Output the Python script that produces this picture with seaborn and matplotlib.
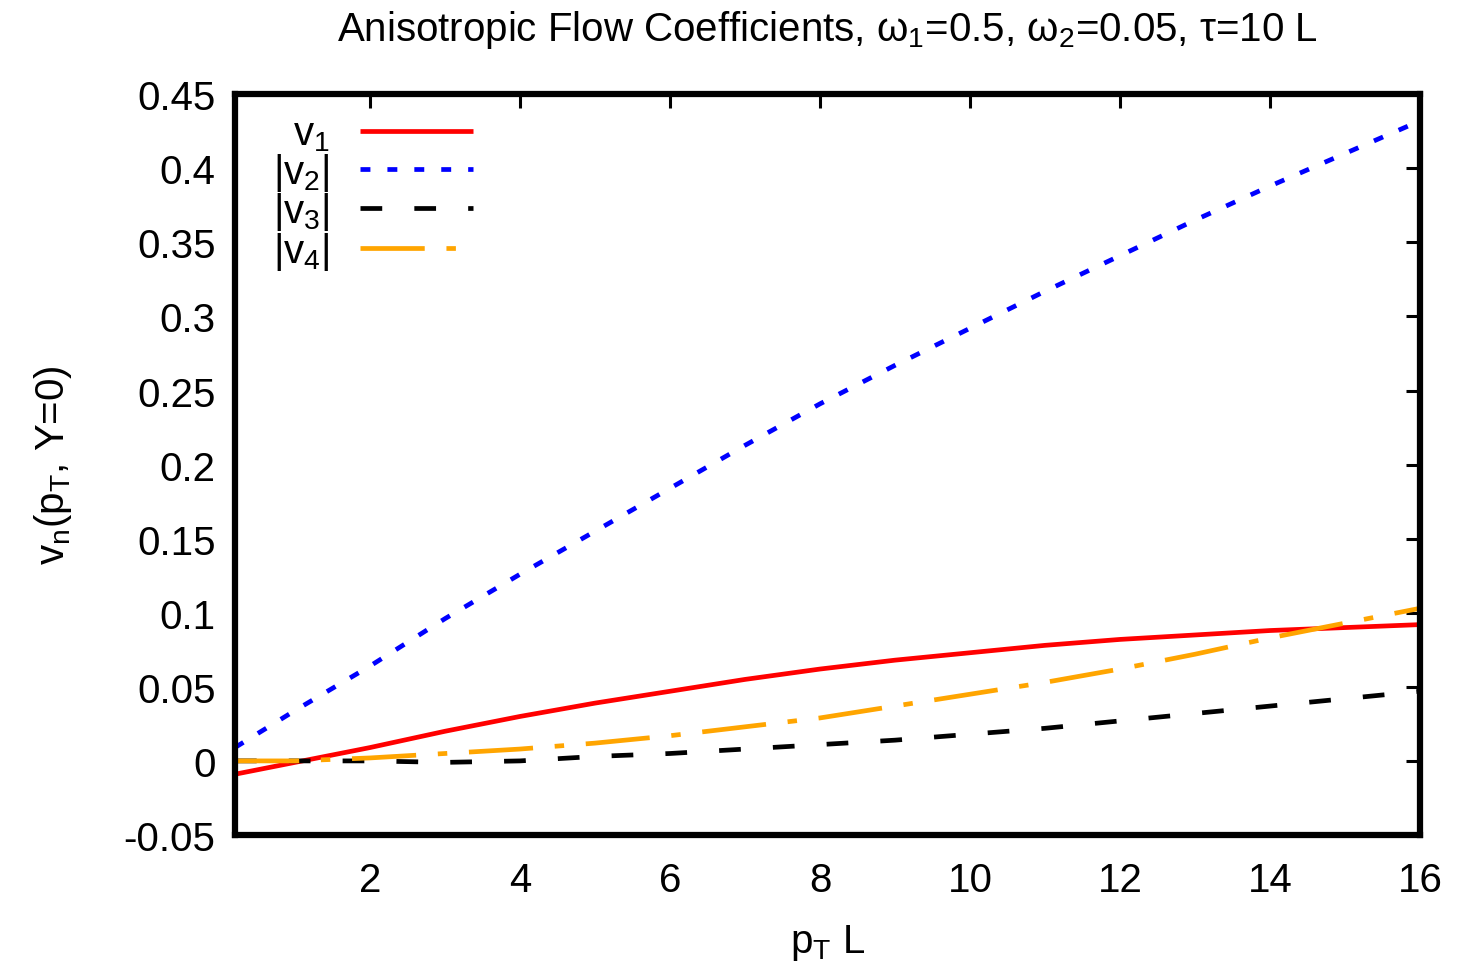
import numpy as np
import pandas as pd
import matplotlib
matplotlib.use("Agg")
import matplotlib.pyplot as plt
from matplotlib.lines import Line2D
import seaborn as sns

# ---- data ----
pt = [0.2, 1, 2, 3, 4, 5, 6, 7, 8, 9, 10, 11, 12, 13, 14, 15, 16]
v1 = [-0.009, -0.001, 0.009, 0.020, 0.030, 0.039, 0.047, 0.055, 0.062, 0.068,
      0.073, 0.078, 0.082, 0.085, 0.088, 0.090, 0.092]
v2 = [0.009, 0.034, 0.064, 0.096, 0.126, 0.155, 0.184, 0.213, 0.241, 0.267,
      0.292, 0.317, 0.341, 0.365, 0.388, 0.410, 0.432]
v3 = [0.000, 0.000, 0.000, -0.001, 0.000, 0.003, 0.005, 0.008, 0.011, 0.014,
      0.018, 0.022, 0.027, 0.032, 0.037, 0.042, 0.047]
v4 = [0.000, 0.000, 0.002, 0.005, 0.008, 0.012, 0.017, 0.023, 0.029, 0.037,
      0.045, 0.053, 0.062, 0.072, 0.083, 0.093, 0.103]
series_names = ["$v_1$", "$|v_2|$", "$|v_3|$", "$|v_4|$"]
xticks = [2, 4, 6, 8, 10, 12, 14, 16]
yticks = [-0.05, 0, 0.05, 0.1, 0.15, 0.2, 0.25, 0.3, 0.35, 0.4, 0.45]
ytick_labels = ["-0.05", "0", "0.05", "0.1", "0.15", "0.2", "0.25", "0.3", "0.35", "0.4", "0.45"]
title = r"Anisotropic Flow Coefficients, $\omega_1$=0.5, $\omega_2$=0.05, $\tau$=10 L"

sns.set_theme(style="white")
plt.rcParams["font.family"] = ["Liberation Sans", "DejaVu Sans"]
plt.rcParams["mathtext.fontset"] = "custom"
plt.rcParams["mathtext.rm"] = "Liberation Sans"
plt.rcParams["mathtext.it"] = "Liberation Sans"
plt.rcParams["mathtext.default"] = "regular"
plt.rcParams["text.color"] = "black"
plt.rcParams["axes.labelcolor"] = "black"
plt.rcParams["xtick.color"] = "black"
plt.rcParams["ytick.color"] = "black"

FS = 29

df = pd.concat([
    pd.DataFrame({"pt": pt, "v": vals, "series": name})
    for name, vals in zip(series_names, [v1, v2, v3, v4])
], ignore_index=True)

palette = dict(zip(series_names, ["#ff0000", "#0000ff", "#000000", "#ffa500"]))
dashes = dict(zip(series_names, ["", (2.1, 3.6), (4.6, 6.8), (13.6, 4.6, 2.0, 4.6)]))
LW = 3.4

fig = plt.figure(figsize=(14.73, 9.62), dpi=100)
ax = fig.add_axes([0.1595, 0.131, 0.8045, 0.770])

sns.lineplot(data=df, x="pt", y="v", hue="series", style="series",
             palette=palette, dashes=dashes, linewidth=LW, ax=ax,
             legend=False, sort=False)
for ln in ax.get_lines():
    ln.set_dash_capstyle("butt")
    ln.set_solid_capstyle("butt")

ax.set_xlim(0.2, 16)
ax.set_ylim(-0.05, 0.45)
ax.set_xticks(xticks)
ax.set_xticklabels([str(t) for t in xticks])
ax.set_yticks(yticks)
ax.set_yticklabels(ytick_labels)
ax.tick_params(direction="in", length=10, width=2.2, top=True, right=True,
               labelsize=FS, colors="black")
ax.tick_params(axis="x", pad=19)
ax.tick_params(axis="y", pad=14)
for s in ax.spines.values():
    s.set_linewidth(4.5)
    s.set_color("black")

ax.set_xlabel("$p_T$ L", fontsize=FS, labelpad=16)
ax.set_ylabel("$v_n$($p_T$, Y=0)", fontsize=FS, labelpad=36)
ax.set_title(title, fontsize=FS, pad=39)

handles = []
for name in series_names:
    h = Line2D([], [], color=palette[name], linewidth=LW,
               dash_capstyle="butt", solid_capstyle="butt")
    d = dashes[name]
    if d:
        h.set_dashes(d)
    handles.append(h)
ax.legend(handles, series_names, loc="upper left", bbox_to_anchor=(0.012, 1.005),
          markerfirst=False, frameon=False, fontsize=FS, handlelength=2.8,
          handletextpad=0.75, labelspacing=-0.06, borderaxespad=0.2)

fig.savefig("out.png", dpi=100, facecolor="white")
